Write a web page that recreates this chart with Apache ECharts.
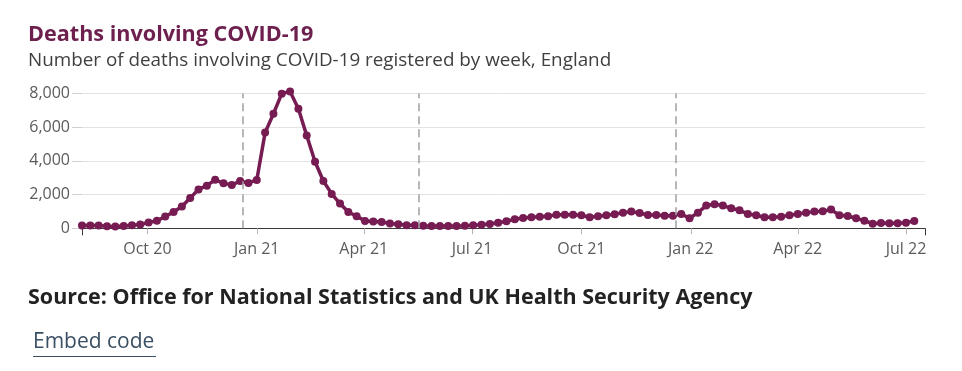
<!DOCTYPE html>
<html>
<head>
<meta charset="utf-8">
<script src="https://cdn.jsdelivr.net/npm/echarts@6/dist/echarts.min.js"></script>
<style>
html,body{margin:0;padding:0;background:#fff;}
#chart{width:962px;height:371px;}
</style>
</head>
<body>
<div id="chart"></div>
<script>
// ---- data ----
const titleText = 'Deaths involving COVID-19';
const subtitleText = 'Number of deaths involving COVID-19 registered by week, England';
const sourceText = 'Source: Office for National Statistics and UK Health Security Agency';
const linkText = 'Embed code';

const firstWeekEnding = '2020-08-07';   // weekly, week ending Friday
const deaths = [
  169,169,170,129,109,130,180,230,347,446,695,970,1290,1795,2310,2529,2880,2680,2569,2800,2690,2870,
  5680,6800,7990,8120,7090,5510,3950,2810,2040,1470,965,718,440,400,380,290,242,182,180,
  150,135,130,130,135,150,175,216,256,335,415,534,613,653,692,712,811,811,811,772,653,712,772,831,930,990,910,
  791,791,752,752,851,593,930,1348,1426,1348,1188,1069,851,772,653,653,692,772,851,930,990,1010,1109,772,732,593,454,270,315,296,296,335,434
];
const xTickDates = ['2020-10-01','2021-01-01','2021-04-01','2021-07-01','2021-10-01','2022-01-01','2022-04-01','2022-07-01'];
const xTickLabels = ['Oct 20','Jan 21','Apr 21','Jul 21','Oct 21','Jan 22','Apr 22','Jul 22'];
const xRange = ['2020-08-07','2022-07-17'];
const dashedDates = ['2020-12-20','2021-05-17','2021-12-19'];

// ---- helpers ----
function ts(s){ const p = s.split('-').map(Number); return Date.UTC(p[0], p[1]-1, p[2]); }
const DAY = 86400000;
const start = ts(firstWeekEnding);
const seriesData = deaths.map((v, i) => [start + i * 7 * DAY, v]);
const tickTs = xTickDates.map(ts);
const labelMap = {};
tickTs.forEach((t, i) => { labelMap[t] = xTickLabels[i]; });
const minTs = ts(xRange[0]), maxTs = ts(xRange[1]);

const FONT = '"Open Sans", sans-serif';
const LINE = '#761c53';

const chart = echarts.init(document.getElementById('chart'), null, {renderer: 'canvas'});
chart.setOption({
  animation: false,
  backgroundColor: '#fff',
  grid: {left: 82, right: 37, top: 93.5, bottom: 142.7, containLabel: false},
  xAxis: [{
    type: 'value', min: minTs, max: maxTs,
    axisLine: {show: true, lineStyle: {color: '#3a3a3a', width: 1}},
    axisTick: {show: true, customValues: tickTs, length: 6, lineStyle: {color: '#b5b5b5'}},
    axisLabel: {customValues: tickTs, formatter: v => labelMap[v] || '', color: '#5b5b5b',
      fontSize: 16, fontFamily: FONT, margin: 13},
    splitLine: {show: false}
  }, {
    type: 'value', min: minTs, max: maxTs, position: 'bottom',
    axisLine: {show: false},
    axisTick: {show: true, customValues: [minTs, maxTs], length: 7, lineStyle: {color: '#3a3a3a'}},
    axisLabel: {show: false},
    splitLine: {show: false}
  }],
  yAxis: {
    type: 'value', min: 0, max: 8000, interval: 2000,
    axisLine: {show: false},
    axisTick: {show: true, length: 10, lineStyle: {color: '#d0d0d0'}},
    axisLabel: {color: '#5b5b5b', fontSize: 16, fontFamily: FONT, margin: 12,
      formatter: v => v.toLocaleString('en-GB')},
    splitLine: {show: true, lineStyle: {color: '#e3e3e3', width: 1}}
  },
  series: [{
    type: 'line', data: seriesData, xAxisIndex: 0,
    symbol: 'circle', symbolSize: 8, showSymbol: true,
    clip: false,
    lineStyle: {color: LINE, width: 3.5},
    itemStyle: {color: LINE},
    markLine: {
      silent: true, symbol: 'none', label: {show: false},
      lineStyle: {type: [8, 5], color: '#a0a0a0', width: 1.5},
      data: dashedDates.map(d => ({xAxis: ts(d)}))
    },
    z: 3
  }],
  graphic: [
    {type: 'text', left: 28, top: 23.5, style: {text: titleText, fill: '#6d1f4d',
      font: 'bold 21.6px ' + FONT}},
    {type: 'text', left: 28, top: 51.5, style: {text: subtitleText, fill: '#404040',
      font: '18.85px ' + FONT}},
    {type: 'text', left: 28, top: 286.5, style: {text: sourceText, fill: '#222',
      font: 'bold 21.5px ' + FONT}},
    {type: 'text', left: 33, top: 332, style: {text: linkText, fill: '#3a4f63',
      font: '21px ' + FONT}},
    {type: 'rect', left: 33, top: 356, shape: {width: 123, height: 1}, style: {fill: '#3a4f63'}}
  ]
});
</script>
</body>
</html>
